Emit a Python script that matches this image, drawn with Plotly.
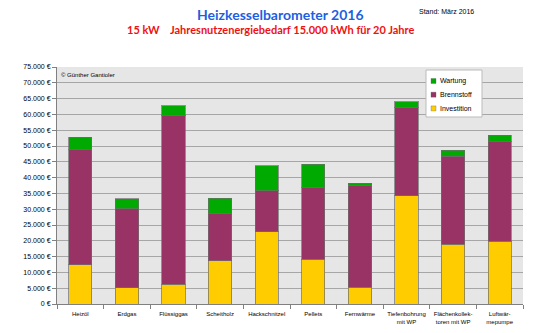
import plotly.graph_objects as go

# Heating systems compared (total cost over 20 years)
categories = ["Heizöl", "Erdgas", "Flüssiggas", "Scheitholz", "Hackschnitzel",
              "Pellets", "Fernwärme", "Tiefenbohrung<br>mit WP",
              "Flächenkollek-<br>toren mit WP", "Luftwär-<br>mepumpe"]

investition = [12400, 5200, 6200, 13700, 22800, 14200, 5300, 34300, 18900, 19800]
brennstoff = [36550, 25000, 53600, 15000, 13100, 22800, 32300, 28000, 27900, 31700]
wartung = [3750, 3100, 3000, 4800, 7900, 7300, 600, 1700, 1800, 1900]

series_names = ["Investition", "Brennstoff", "Wartung"]
series_colors = ["#FFCC00", "#993366", "#00AA00"]

y_ticks = list(range(0, 75001, 5000))
y_tick_labels = [f"{v:,}".replace(",", ".") + " €" for v in y_ticks]

FONT = "Liberation Sans"
W, H = 551, 333
ML, MR, MT, MB = 57, 28, 67, 29
outline = dict(color="rgba(110,110,110,0.7)", width=1)


def px_x(x):
    return (x - ML) / (W - ML - MR)


def px_y(y):
    return 1 - (y - MT) / (H - MT - MB)


fig = go.Figure()
for name, vals, col in zip(series_names, [investition, brennstoff, wartung], series_colors):
    fig.add_trace(go.Bar(name=name, x=categories, y=vals,
                         marker=dict(color=col, line=outline)))

annotations = [
    dict(text="<b>Heizkesselbarometer 2016</b>", x=px_x(280), y=px_y(14),
         font=dict(family="Lato", size=14, color="#1D5FE0")),
    dict(text="<b>15 kW    Jahresnutzenergiebedarf 15.000 kWh für 20 Jahre</b>",
         x=px_x(270), y=px_y(30), font=dict(family="Lato", size=11, color="#EE1111")),
    dict(text="Stand: März 2016", x=px_x(476), y=px_y(11),
         font=dict(family=FONT, size=7, color="black")),
    dict(text="© Günther Gantioler", x=px_x(59), y=px_y(75), xanchor="left",
         font=dict(family=FONT, size=6, color="black")),
]

# compact legend box: Wartung, Brennstoff, Investition from top to bottom
shapes = [dict(type="rect", xref="paper", yref="paper",
               x0=px_x(426), x1=px_x(482), y0=px_y(117), y1=px_y(70),
               fillcolor="white", line=dict(color="#BBBBBB", width=1), layer="above")]
for i, (name, col) in enumerate(zip(series_names[::-1], series_colors[::-1])):
    yc = 81 + i * 13.7
    shapes.append(dict(type="rect", xref="paper", yref="paper",
                       x0=px_x(431), x1=px_x(436), y0=px_y(yc + 2.5), y1=px_y(yc - 2.5),
                       fillcolor=col, line=dict(color="rgba(90,90,90,0.6)", width=0.5),
                       layer="above"))
    annotations.append(dict(text=name, x=px_x(437.5), y=px_y(yc), xanchor="left",
                            font=dict(family=FONT, size=7, color="black")))

for a in annotations:
    a.update(xref="paper", yref="paper", showarrow=False, yanchor="middle")

fig.update_layout(
    width=W, height=H,
    barmode="stack", bargap=0.5,
    paper_bgcolor="white", plot_bgcolor="#E6E6E6",
    margin=dict(l=ML, r=MR, t=MT, b=MB),
    font=dict(family=FONT, size=7, color="black"),
    showlegend=False,
    xaxis=dict(showgrid=False, ticks="outside", tickson="boundaries",
               ticklen=4, tickcolor="#808080", linecolor="#808080",
               showline=True, tickfont=dict(size=6), tickangle=0,
               ticklabelstandoff=4, automargin=False),
    yaxis=dict(range=[0, 75000], tickvals=y_ticks, ticktext=y_tick_labels,
               gridcolor="#A6A6A6", gridwidth=1, ticks="outside", ticklen=4,
               tickcolor="#808080", showline=True, linecolor="#808080",
               tickfont=dict(size=7), zeroline=False, automargin=False),
    annotations=annotations,
    shapes=shapes,
)

fig.write_html("out.html")
